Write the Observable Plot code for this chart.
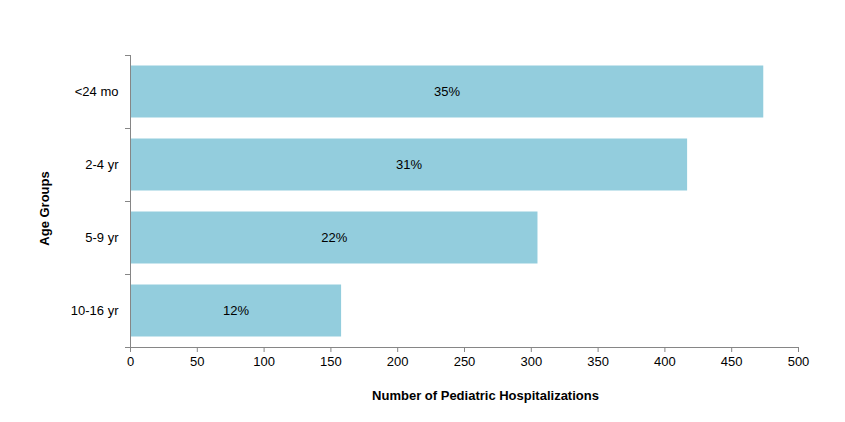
<!DOCTYPE html>
<html>
<head>
<meta charset="utf-8">
<script src="https://cdn.jsdelivr.net/npm/d3@7"></script>
<script src="https://cdn.jsdelivr.net/npm/@observablehq/plot@0.6"></script>
<style>
  html, body { margin: 0; padding: 0; background: #fff; }
  #chart { width: 845px; height: 422px; }
</style>
</head>
<body>
<div id="chart"></div>
<script>
const categories = ["<24 mo", "2-4 yr", "5-9 yr", "10-16 yr"];
const values = [474, 417, 305, 158];
const percents = ["35%", "31%", "22%", "12%"];
const xTicks = [0, 50, 100, 150, 200, 250, 300, 350, 400, 450, 500];
const xTitle = "Number of Pediatric Hospitalizations";
const yTitle = "Age Groups";

const data = categories.map((c, i) => ({cat: c, value: values[i], pct: percents[i], i}));
const n = categories.length;
const boundaries = d3.range(n + 1);
const centers = d3.range(n).map(i => i + 0.5);

const axisColor = "#868686";
const font = "Liberation Sans, Arial, sans-serif";

const chart = Plot.plot({
  width: 845,
  height: 422,
  marginLeft: 130,
  marginRight: 47,
  marginTop: 55,
  marginBottom: 75,
  style: {fontFamily: font, fontSize: "13px", color: "#000", background: "#fff"},
  x: {domain: [0, 500]},
  y: {domain: [0, n], reverse: true},
  marks: [
    Plot.rectX(data, {
      x1: 0, x2: "value",
      y1: "i", y2: d => d.i + 1,
      insetTop: 10.5, insetBottom: 10.5,
      fill: "#93CDDD"
    }),
    Plot.text(data, {
      x: d => d.value / 2,
      y: d => d.i + 0.5,
      text: "pct",
      fill: "#000",
      fontSize: 13
    }),
    Plot.ruleX([0], {stroke: axisColor, strokeWidth: 1}),
    Plot.ruleY([n], {stroke: axisColor, strokeWidth: 1}),
    Plot.axisX({
      ticks: xTicks, tickSize: 5, tickPadding: 4, stroke: axisColor,
      fill: "#000", label: null, tickFormat: d => d, fontSize: 13
    }),
    Plot.axisY({
      ticks: boundaries, tickSize: 5, stroke: axisColor,
      tickFormat: () => "", label: null
    }),
    Plot.axisY({
      ticks: centers, tickSize: 0, tickPadding: 12, fill: "#000", fontSize: 13,
      tickFormat: d => categories[Math.floor(d)], label: null
    }),
    Plot.text([xTitle], {
      frameAnchor: "bottom", dx: 21, dy: 52,
      text: d => d, fontWeight: "bold", fontSize: 13, fill: "#000"
    }),
    Plot.text([yTitle], {
      frameAnchor: "left", dx: -86, dy: 7, rotate: -90, textAnchor: "middle",
      text: d => d, fontWeight: "bold", fontSize: 13, fill: "#000"
    })
  ]
});

document.getElementById("chart").appendChild(chart);
</script>
</body>
</html>
